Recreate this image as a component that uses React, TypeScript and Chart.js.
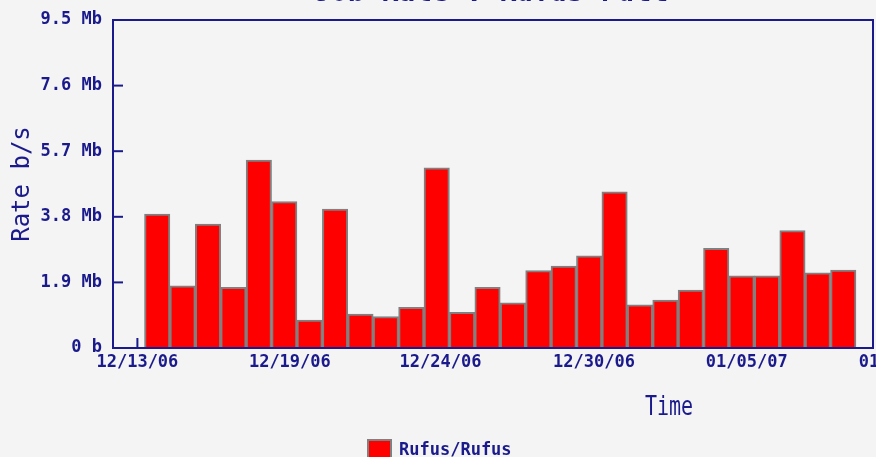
import { useEffect, useRef } from 'react';
import { Chart, registerables } from 'chart.js';

Chart.register(...registerables);

// ---- data ----
const chartTitle = 'Job Rate : Rufus Full';
const seriesLabel = 'Rufus/Rufus';
const categories = [
  '12/13/06', '12/14/06', '12/15/06', '12/16/06', '12/17/06', '12/18/06', '12/19/06',
  '12/20/06', '12/21/06', '12/22/06', '12/23/06', '12/24/06', '12/25/06', '12/26/06',
  '12/27/06', '12/28/06', '12/29/06', '12/30/06', '12/31/06', '01/01/07', '01/02/07',
  '01/03/07', '01/04/07', '01/05/07', '01/06/07', '01/07/07', '01/08/07', '01/09/07',
];
// rate in Mb/s
const rates = [
  3.88, 1.8, 3.59, 1.76, 5.44, 4.24, 0.81, 4.02, 0.98, 0.91, 1.18, 5.22, 1.03, 1.76,
  1.31, 2.24, 2.37, 2.67, 4.52, 1.25, 1.39, 1.68, 2.89, 2.09, 2.09, 3.4, 2.18, 2.26,
];
const xTickValues = [-0.28, 5.72, 11.65, 17.69, 23.7, 29.72];
const xTickLabels = ['12/13/06', '12/19/06', '12/24/06', '12/30/06', '01/05/07', '01/11/07'];
const yTickValues = [0, 1.9, 3.8, 5.7, 7.6, 9.5];
const yTickLabels = ['0 b', '1.9 Mb', '3.8 Mb', '5.7 Mb', '7.6 Mb', '9.5 Mb'];
const xMin = -1.24;
const xMax = 28.67;
const yMax = 9.5;

// ---- styles ----
const NAVY = '#1a1a8c';
const BG = '#f4f4f4';
const RED = '#ff0000';
const GRAY = '#808080';
const MONO = '"DejaVu Sans Mono", monospace';

const decorPlugin = {
  id: 'decor',
  beforeDraw(chart: any) {
    const { ctx, width, height } = chart;
    ctx.save();
    ctx.fillStyle = BG;
    ctx.fillRect(0, 0, width, height);
    ctx.restore();
  },
  beforeDatasetsDraw(chart: any) {
    const { ctx, chartArea } = chart;
    const xs = chart.scales.x;
    ctx.save();
    ctx.strokeStyle = NAVY;
    ctx.lineWidth = 2;
    xTickValues.forEach((v) => {
      const px = xs.getPixelForValue(v);
      if (px < chartArea.left || px > chartArea.right) return;
      ctx.beginPath();
      ctx.moveTo(px, chartArea.bottom);
      ctx.lineTo(px, chartArea.bottom - 10);
      ctx.stroke();
    });
    ctx.restore();
  },
  afterDatasetsDraw(chart: any) {
    const { ctx, chartArea } = chart;
    const ys = chart.scales.y;
    ctx.save();
    ctx.strokeStyle = NAVY;
    ctx.lineWidth = 2;
    yTickValues.forEach((v) => {
      const py = ys.getPixelForValue(v);
      ctx.beginPath();
      ctx.moveTo(chartArea.left, py);
      ctx.lineTo(chartArea.left + 10, py);
      ctx.stroke();
    });
    ctx.strokeRect(
      chartArea.left,
      chartArea.top,
      chartArea.right - chartArea.left,
      chartArea.bottom - chartArea.top
    );
    ctx.restore();
  },
  afterDraw(chart: any) {
    const { ctx } = chart;
    ctx.save();
    ctx.fillStyle = NAVY;
    // title (cut off by the top edge)
    ctx.font = `bold 28px ${MONO}`;
    ctx.textAlign = 'center';
    ctx.textBaseline = 'alphabetic';
    ctx.fillText(chartTitle, 491, 1);
    // x axis title
    ctx.save();
    ctx.translate(669, 415);
    ctx.scale(1, 1.3);
    ctx.font = `20px ${MONO}`;
    ctx.fillText('Time', 0, 0);
    ctx.restore();
    // legend
    const ds = chart.data.datasets[0];
    ctx.fillStyle = ds.backgroundColor;
    ctx.fillRect(367, 439, 25, 25);
    ctx.strokeStyle = GRAY;
    ctx.lineWidth = 2;
    ctx.strokeRect(368, 440, 23, 23);
    ctx.fillStyle = NAVY;
    ctx.font = `bold 17px ${MONO}`;
    ctx.textAlign = 'left';
    ctx.fillText(ds.label, 399, 455);
    ctx.restore();
  },
};

export default function App() {
  const ref = useRef<HTMLCanvasElement>(null);
  useEffect(() => {
    const canvas = ref.current;
    if (!canvas) return;
    const chart = new Chart(canvas, {
      type: 'bar',
      data: {
        datasets: [
          {
            label: seriesLabel,
            data: rates.map((v, i) => ({ x: i + 0.5, y: v, c: categories[i] })) as any,
            backgroundColor: RED,
            borderColor: GRAY,
            borderWidth: 2,
            barPercentage: 1,
            categoryPercentage: 1,
          },
        ],
      },
      options: {
        animation: false,
        responsive: false,
        maintainAspectRatio: false,
        events: [],
        layout: { padding: { top: 20, right: 7, left: 0, bottom: 0 } },
        plugins: {
          legend: { display: false },
          title: { display: false },
          tooltip: { enabled: false },
        },
        scales: {
          x: {
            type: 'linear',
            min: xMin,
            max: xMax,
            offset: false,
            grid: { display: false, drawTicks: false },
            border: { display: false },
            afterBuildTicks: (s: any) => {
              s.ticks = xTickValues.map((v) => ({ value: v }));
            },
            afterFit: (s: any) => {
              s.height = 109;
              s.paddingLeft = 0;
              s.paddingRight = 0;
            },
            ticks: {
              autoSkip: false,
              maxRotation: 0,
              minRotation: 0,
              padding: 4,
              color: NAVY,
              font: { family: MONO, size: 17, weight: 'bold' },
              callback: (_v: any, i: number) => xTickLabels[i],
            },
          },
          y: {
            type: 'linear',
            min: 0,
            max: yMax,
            grid: { display: false, drawTicks: false },
            border: { display: false },
            afterBuildTicks: (s: any) => {
              s.ticks = yTickValues.map((v) => ({ value: v }));
            },
            afterFit: (s: any) => {
              s.width = 113;
              s.paddingTop = 0;
              s.paddingBottom = 0;
            },
            title: {
              display: true,
              text: 'Rate b/s',
              color: NAVY,
              font: { family: MONO, size: 24 },
              padding: { top: 8, bottom: 0 },
            },
            ticks: {
              autoSkip: false,
              padding: 11,
              color: NAVY,
              font: { family: MONO, size: 17, weight: 'bold' },
              callback: (_v: any, i: number) => yTickLabels[i],
            },
          },
        },
      },
      plugins: [decorPlugin],
    });
    return () => chart.destroy();
  }, []);
  return (
    <div
      style={{
        position: 'fixed',
        left: 0,
        top: 0,
        width: 876,
        height: 457,
        overflow: 'hidden',
        background: BG,
      }}
    >
      <canvas ref={ref} width={880} height={457} style={{ display: 'block' }} />
    </div>
  );
}
